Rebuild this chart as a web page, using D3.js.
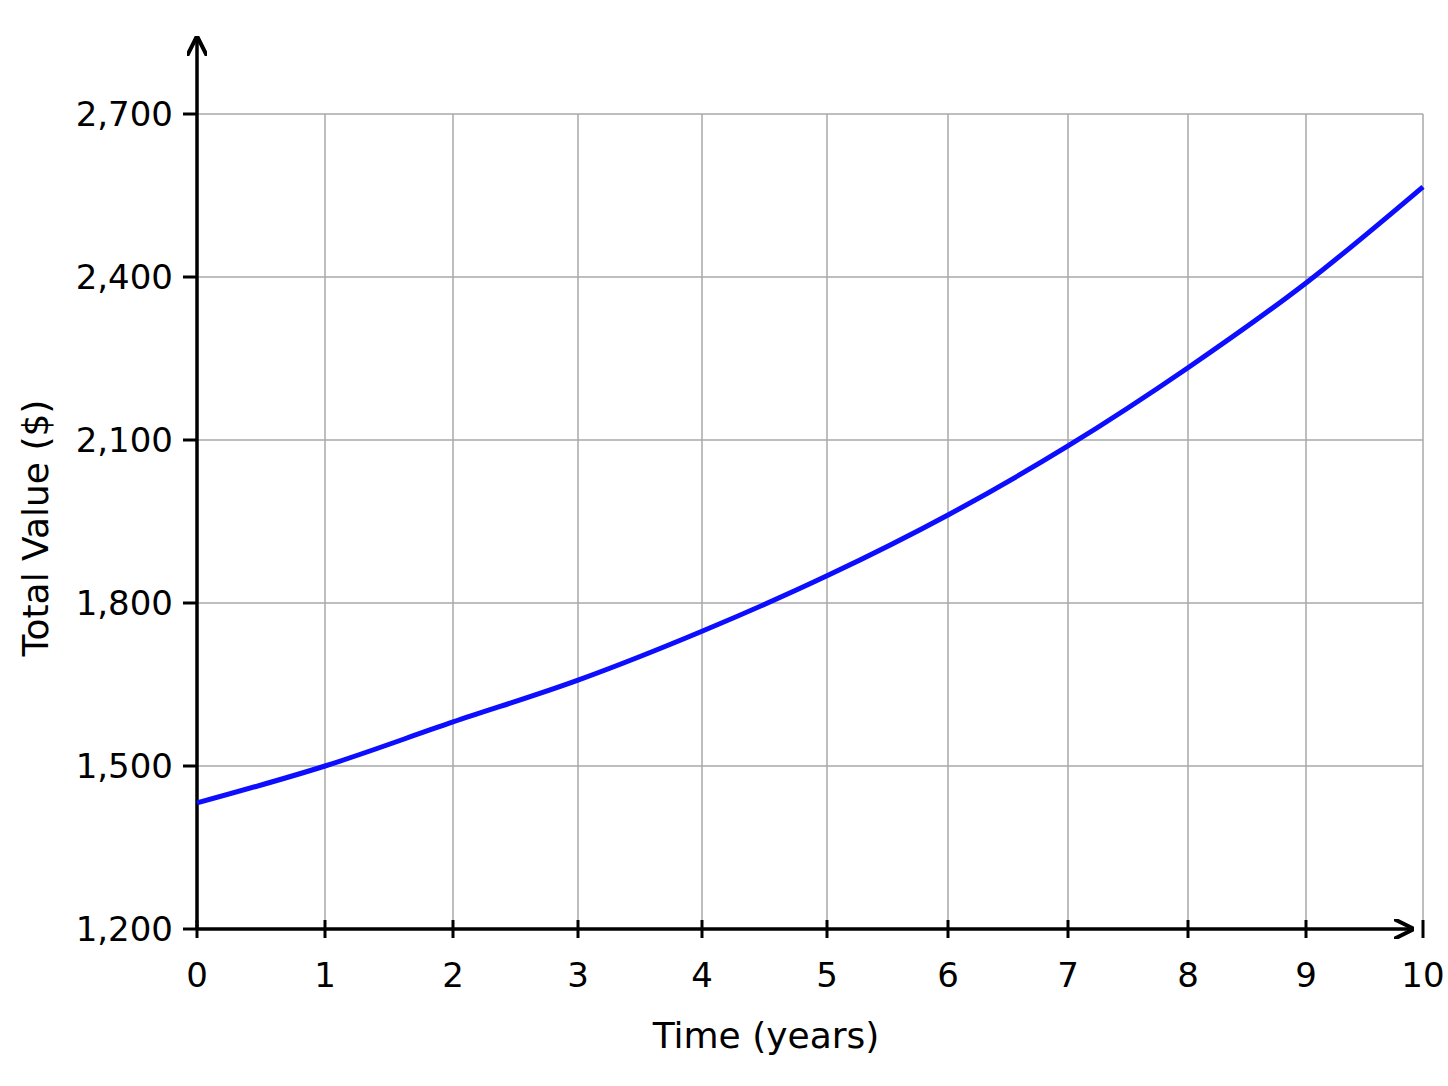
<!DOCTYPE html>
<html><head><meta charset="utf-8">
<script src="https://cdn.jsdelivr.net/npm/d3@7"></script>
<style>body{margin:0;background:#fff}text{font-family:"DejaVu Sans",sans-serif}</style>
</head><body><svg id="chart" width="1448" height="1086"></svg>
<script>
const years = [0, 1, 2, 3, 4, 5, 6, 7, 8, 9, 10]
const values = [1432, 1500, 1581, 1658, 1748, 1850, 1962, 2089, 2233, 2389, 2566]
const yTicks = [1200, 1500, 1800, 2100, 2400, 2700]
// the original grid is slightly uneven, so the x scale is piecewise
const xRange = [197, 325, 453, 578, 702, 827, 948, 1068, 1188, 1306, 1423]

const svg = d3.select('#chart')
const x = d3.scaleLinear().domain(years).range(xRange)
const y = d3.scaleLinear().domain([1200, 2700]).range([929, 114])
const fmt = d3.format(',')

const grid = svg.append('g').attr('stroke', '#a8a8a8').attr('stroke-width', 1.5)
years.slice(1).forEach(t => grid.append('line').attr('x1', x(t)).attr('x2', x(t)).attr('y1', y(2700)).attr('y2', y(1200)))
yTicks.slice(1).forEach(v => grid.append('line').attr('x1', x(0)).attr('x2', x(10)).attr('y1', y(v)).attr('y2', y(v)))

svg.append('defs').append('marker').attr('id', 'arr').attr('viewBox', '0 0 10 10').attr('refX', 9).attr('refY', 5)
  .attr('markerWidth', 20).attr('markerHeight', 20).attr('markerUnits', 'userSpaceOnUse').attr('orient', 'auto')
  .append('path').attr('d', 'M0,0 L10,5 L0,10').attr('fill', 'none').attr('stroke', '#000').attr('stroke-width', 2)

svg.append('line').attr('x1', x(0)).attr('x2', 1412).attr('y1', y(1200)).attr('y2', y(1200))
  .attr('stroke', '#000').attr('stroke-width', 3.5).attr('marker-end', 'url(#arr)')
svg.append('line').attr('x1', x(0)).attr('x2', x(0)).attr('y1', y(1200)).attr('y2', 38)
  .attr('stroke', '#000').attr('stroke-width', 3.5).attr('marker-end', 'url(#arr)')

years.forEach(t => {
  svg.append('line').attr('x1', x(t)).attr('x2', x(t)).attr('y1', y(1200) - 9).attr('y2', y(1200) + 9).attr('stroke', '#000').attr('stroke-width', 3)
  svg.append('text').attr('x', x(t)).attr('y', 987).attr('text-anchor', 'middle').attr('font-size', 34).text(t)
})
yTicks.forEach(v => {
  svg.append('line').attr('x1', x(0) - 14).attr('x2', x(0)).attr('y1', y(v)).attr('y2', y(v)).attr('stroke', '#000').attr('stroke-width', 3)
  svg.append('text').attr('x', 173).attr('y', y(v) + 12).attr('text-anchor', 'end').attr('font-size', 34).text(fmt(v))
})

svg.append('path').datum(years.map((t, i) => [t, values[i]]))
  .attr('d', d3.line().x(d => x(d[0])).y(d => y(d[1])).curve(d3.curveMonotoneX))
  .attr('fill', 'none').attr('stroke', '#0d0dff').attr('stroke-width', 5)

svg.append('text').attr('x', 766).attr('y', 1048).attr('text-anchor', 'middle').attr('font-size', 36).text('Time (years)')
svg.append('text').attr('transform', 'translate(48,528) rotate(-90)').attr('text-anchor', 'middle').attr('font-size', 36).text('Total Value ($)')
</script></body></html>
